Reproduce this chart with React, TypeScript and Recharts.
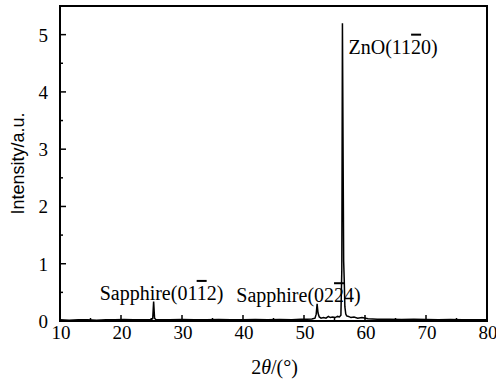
import React from "react";
import { LineChart, Line, XAxis, YAxis, ReferenceArea, ReferenceDot } from "recharts";

const twoTheta = [
  10, 11.5, 13, 14.5, 16, 17.5, 19, 20.5, 22, 23.5, 24.8, 25.2, 25.35, 25.5, 25.7, 26.5,
  28, 30, 32, 34, 36, 38, 40, 42, 44, 46, 48, 49.5, 50.5, 51.3, 51.8, 52.0, 52.15, 52.3,
  52.5, 52.8, 53.2, 53.6, 54.0, 54.3, 54.7, 55.1, 55.5, 55.8, 56.05, 56.2, 56.3, 56.4,
  56.5, 56.6, 56.7, 56.85, 57.0, 57.3, 57.7, 58.2, 58.8, 59.5, 60.5, 62, 64, 66, 68, 70,
  72, 74, 76, 78, 80,
];
const intensity = [
  0.02, 0.015, 0.02, 0.02, 0.015, 0.02, 0.02, 0.025, 0.02, 0.02, 0.025, 0.04, 0.34, 0.05, 0.025, 0.02,
  0.02, 0.025, 0.02, 0.02, 0.025, 0.02, 0.02, 0.025, 0.02, 0.025, 0.02, 0.03, 0.03, 0.035, 0.05, 0.12, 0.3, 0.14,
  0.07, 0.05, 0.06, 0.05, 0.08, 0.06, 0.07, 0.06, 0.08, 0.07, 0.1, 0.9, 5.2, 3.1,
  1.05, 0.7, 0.25, 0.12, 0.09, 0.08, 0.06, 0.07, 0.05, 0.06, 0.04, 0.03, 0.03, 0.025, 0.03, 0.025,
  0.02, 0.025, 0.02, 0.02, 0.02,
];

const xTicks = [10, 15, 20, 25, 30, 35, 40, 45, 50, 55, 60, 65, 70, 75, 80];
const yTicks = [0, 0.5, 1, 1.5, 2, 2.5, 3, 3.5, 4, 4.5, 5];

// label text split as [before, overlined digit, after]
const peakLabels = [
  { x: 57.3, y: 4.79, parts: ["ZnO(11", "2", "0)"] },
  { x: 16.5, y: 0.49, parts: ["Sapphire(01", "1", "2)"] },
  { x: 38.9, y: 0.45, parts: ["Sapphire(02", "2", "4)"] },
];

const data = twoTheta.map((t, i) => ({ t, v: intensity[i] }));

const SERIF = "Liberation Serif, Times New Roman, serif";

function XTick({ x, y, payload }: any) {
  const major = payload.value % 10 === 0;
  return (
    <g>
      <line x1={x} x2={x} y1={y} y2={y - (major ? 6 : 3)} stroke="#000" strokeWidth={1.5} />
      {major && (
        <text x={x + 1} y={y + 18} textAnchor="middle" fontFamily={SERIF} fontSize={19} fill="#000">
          {payload.value}
        </text>
      )}
    </g>
  );
}

function YTick({ x, y, payload }: any) {
  const major = Number.isInteger(payload.value);
  return (
    <g>
      <line x1={x} x2={x + (major ? 6 : 3)} y1={y} y2={y} stroke="#000" strokeWidth={1.5} />
      {major && (
        <text x={x - 12} y={y + 7} textAnchor="end" fontFamily={SERIF} fontSize={19} fill="#000">
          {payload.value}
        </text>
      )}
    </g>
  );
}

function PeakLabel({ viewBox, parts }: any) {
  return (
    <text x={viewBox.x} y={viewBox.y + 7} fontFamily={SERIF} fontSize={20} fill="#000">
      {parts[0]}
      <tspan style={{ textDecoration: "overline" }}>{parts[1]}</tspan>
      {parts[2]}
    </text>
  );
}

export default function App() {
  return (
    <div style={{ position: "absolute", left: 0, top: 0, background: "#fff" }}>
      <LineChart width={496} height={379} data={data} margin={{ top: 6, right: 9, bottom: 0, left: 0 }}>
        <XAxis
          dataKey="t"
          type="number"
          domain={[10, 80]}
          ticks={xTicks}
          interval={0}
          height={58}
          tickSize={0}
          tickMargin={0}
          tickLine={false}
          axisLine={{ stroke: "#000", strokeWidth: 2 }}
          tick={<XTick />}
          label={({ viewBox }: any) => (
            <text
              x={viewBox.x + viewBox.width / 2 + 1}
              y={viewBox.y + 53}
              textAnchor="middle"
              fontFamily={SERIF}
              fontSize={20}
              fill="#000"
            >
              2<tspan fontStyle="italic">θ</tspan>/(°)
            </text>
          )}
        />
        <YAxis
          type="number"
          domain={[0, 5.5]}
          ticks={yTicks}
          interval={0}
          width={60}
          tickSize={0}
          tickMargin={0}
          tickLine={false}
          axisLine={{ stroke: "#000", strokeWidth: 2 }}
          tick={<YTick />}
          label={({ viewBox }: any) => (
            <text
              x={18}
              y={viewBox.y + viewBox.height / 2}
              textAnchor="middle"
              dominantBaseline="central"
              transform={`rotate(-90, 18, ${viewBox.y + viewBox.height / 2})`}
              fontFamily="Liberation Sans, Arial, sans-serif"
              fontSize={18}
              fill="#000"
            >
              Intensity/a.u.
            </text>
          )}
        />
        <ReferenceArea x1={10} x2={80} y1={0} y2={5.5} fill="none" stroke="#000" strokeWidth={2} ifOverflow="visible" />
        <Line
          type="linear"
          dataKey="v"
          stroke="#000"
          strokeWidth={1.5}
          dot={false}
          isAnimationActive={false}
        />
        {peakLabels.map((p) => (
          <ReferenceDot
            key={p.parts.join("")}
            x={p.x}
            y={p.y}
            r={0}
            fill="none"
            stroke="none"
            label={<PeakLabel parts={p.parts} />}
          />
        ))}
      </LineChart>
    </div>
  );
}
